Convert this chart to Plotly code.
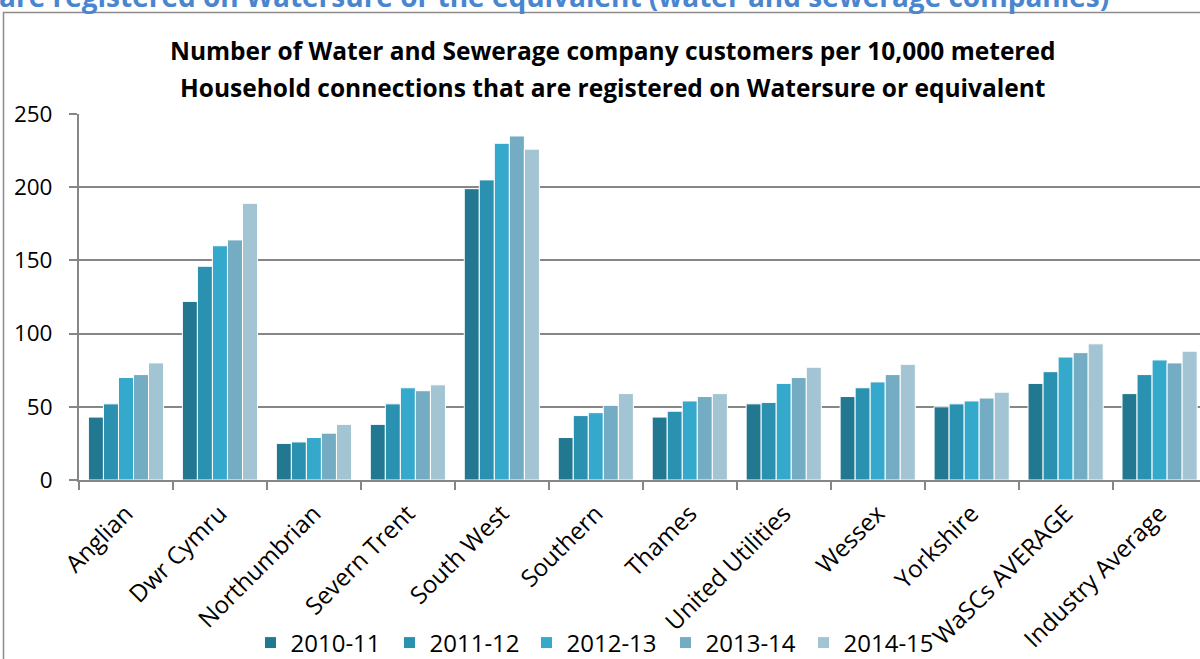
import plotly.graph_objects as go

categories = ["Anglian", "Dwr Cymru", "Northumbrian", "Severn Trent", "South West",
              "Southern", "Thames", "United Utilities", "Wessex", "Yorkshire",
              "WaSCs AVERAGE", "Industry Average"]
s2010_11 = [43, 122, 25, 38, 199, 29, 43, 52, 57, 50, 66, 59]
s2011_12 = [52, 146, 26, 52, 205, 44, 47, 53, 63, 52, 74, 72]
s2012_13 = [70, 160, 29, 63, 230, 46, 54, 66, 67, 54, 84, 82]
s2013_14 = [72, 164, 32, 61, 235, 51, 57, 70, 72, 56, 87, 80]
s2014_15 = [80, 189, 38, 65, 226, 59, 59, 77, 79, 60, 93, 88]
series_names = ["2010-11", "2011-12", "2012-13", "2013-14", "2014-15"]
series_values = [s2010_11, s2011_12, s2012_13, s2013_14, s2014_15]
colors = ["#217890", "#2a92b0", "#34a9cb", "#74adc3", "#a3c4d2"]

title_lines = ["Number of Water and Sewerage company customers per 10,000 metered",
               "Household connections that are registered on Watersure or equivalent"]
header_text = "are registered on Watersure or the equivalent (water and sewerage companies)"

FONT = "'Open Sans', Lato, sans-serif"

W, H = 1200, 659
L, R, T, B = 79, 0, 114, 179
pw, ph = W - L - R, H - T - B

def px_x(p):
    return (p - L) / pw

def px_y(p):
    return (H - B - p) / ph

legend_left_px = [250.5, 389.5, 526.5, 665.5, 803.5]

fig = go.Figure()
legend_layouts = {}
for i, (name, vals, col) in enumerate(zip(series_names, series_values, colors)):
    key = "legend" if i == 0 else f"legend{i + 1}"
    fig.add_trace(go.Bar(x=categories, y=vals, name=name, legend=key,
                         marker=dict(color=col, line=dict(color="white", width=1))))
    legend_layouts[key] = dict(orientation="h", x=px_x(legend_left_px[i]), xanchor="left",
                               y=px_y(643), yanchor="middle", bgcolor="rgba(0,0,0,0)",
                               font=dict(size=24), itemwidth=30)

fig.update_layout(
    width=W, height=H,
    margin=dict(l=L, r=R, t=T, b=B, autoexpand=False),
    paper_bgcolor="white", plot_bgcolor="white",
    barmode="group", bargap=0.2, bargroupgap=0,
    font=dict(family=FONT, size=20, color="black"),
    showlegend=True,
    xaxis=dict(range=[-0.5, 11.43], showline=True, linecolor="#868686", linewidth=2,
               ticks="outside", tickson="boundaries", ticklen=8, tickcolor="#868686",
               tickwidth=2, tickangle=-45, tickfont=dict(size=24), showgrid=False,
               automargin=False, ticklabelstandoff=8),
    yaxis=dict(range=[0, 250], dtick=50, showline=True, linecolor="#868686", linewidth=2,
               ticks="outside", ticklen=8, tickcolor="#868686", tickwidth=2,
               gridcolor="#868686", gridwidth=2, tickfont=dict(size=22.5),
               zeroline=False, automargin=False, ticklabelstandoff=12),
    shapes=[dict(type="rect", xref="paper", yref="paper",
                 x0=px_x(3.5), x1=px_x(1215), y0=px_y(700), y1=px_y(12.5),
                 line=dict(color="#8c8c8c", width=1.5), layer="below")],
    annotations=[
        dict(text=title_lines[0], xref="paper", yref="paper", x=px_x(612), y=px_y(50),
             xanchor="center", yanchor="middle", showarrow=False,
             font=dict(family=FONT, size=24.5, color="black", weight="bold")),
        dict(text=title_lines[1], xref="paper", yref="paper", x=px_x(612), y=px_y(87),
             xanchor="center", yanchor="middle", showarrow=False,
             font=dict(family=FONT, size=24.5, color="black", weight="bold")),
        dict(text=header_text, xref="paper", yref="paper", x=px_x(-3), y=px_y(-4),
             xanchor="left", yanchor="middle", showarrow=False,
             font=dict(family=FONT, size=28, color="#4a86cf", weight="bold")),
    ],
)
fig.update_layout(**legend_layouts)

fig.write_html("out.html", config={"displayModeBar": False},
               post_script="document.body.style.margin='0px';document.body.style.overflow='hidden';")
